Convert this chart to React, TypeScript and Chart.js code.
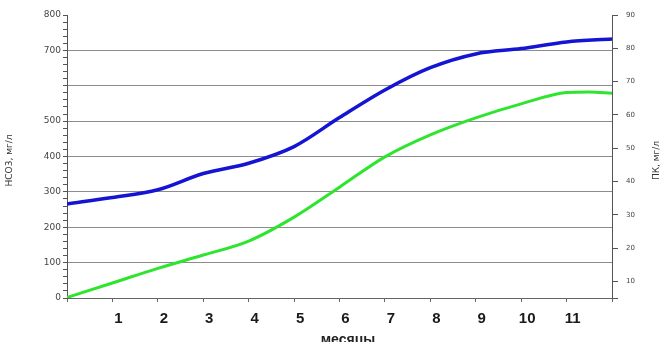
import React, { useEffect, useRef } from "react";
import { Chart, registerables } from "chart.js";

Chart.register(...registerables);

const months = [0, 1, 2, 3, 4, 5, 6, 7, 8, 9, 10, 11, 12];
const hco3 = [266, 284, 306, 352, 381, 428, 510, 588, 651, 690, 705, 724, 732];
const pkMonths = [0, 1, 2, 3, 4, 5, 6, 7, 8, 9, 10, 11, 11.5, 12];
const pk = [5.15, 9.5, 13.9, 17.9, 22.1, 29.3, 38.3, 47.4, 54.0, 59.1, 63.3, 66.7, 66.9, 66.5];
const xTickLabels = ["1", "2", "3", "4", "5", "6", "7", "8", "9", "10", "11"];
const leftTickLabels = [0, 100, 200, 300, 400, 500, 700, 800];
const rightTickLabels = [10, 20, 30, 40, 50, 60, 70, 80, 90];

const titlesPlugin = {
  id: "titles",
  afterDraw(chart: any) {
    const ctx = chart.ctx;
    const area = chart.chartArea;
    ctx.save();
    ctx.fillStyle = "#333";
    ctx.textAlign = "center";
    ctx.textBaseline = "middle";
    ctx.font = "9px 'DejaVu Sans'";
    ctx.save();
    ctx.translate(10, (area.top + area.bottom) / 2 + 4);
    ctx.rotate(-Math.PI / 2);
    ctx.fillText("HCO3, мг/л", 0, 0);
    ctx.restore();
    ctx.save();
    ctx.translate(657, (area.top + area.bottom) / 2 + 4);
    ctx.rotate(-Math.PI / 2);
    ctx.fillText("ПК, мг/л", 0, 0);
    ctx.restore();
    ctx.font = "bold 14px 'Liberation Sans'";
    ctx.textBaseline = "alphabetic";
    ctx.fillStyle = "#222";
    ctx.fillText("месяцы", 348, 344);
    ctx.restore();
  },
};

export default function App() {
  const ref = useRef<HTMLCanvasElement>(null);
  useEffect(() => {
    if (!ref.current) return;
    const chart = new Chart(ref.current, {
      type: "line",
      data: {
        datasets: [
          {
            label: "HCO3",
            data: months.map((m, i) => ({ x: m, y: hco3[i] })),
            borderColor: "#1414d2",
            borderWidth: 3.5,
            pointRadius: 0,
            cubicInterpolationMode: "monotone",
            yAxisID: "y",
          },
          {
            label: "ПК",
            data: pkMonths.map((m, i) => ({ x: m, y: pk[i] })),
            borderColor: "#2ee52e",
            borderWidth: 3,
            pointRadius: 0,
            cubicInterpolationMode: "monotone",
            yAxisID: "y1",
          },
        ],
      },
      options: {
        responsive: false,
        animation: false,
        layout: { padding: { top: 15, left: 0, right: 0, bottom: 0 } },
        plugins: { legend: { display: false }, tooltip: { enabled: false } },
        scales: {
          x: {
            type: "linear",
            min: 0,
            max: 12,
            afterFit: (s: any) => { s.height = 44; },
            ticks: {
              stepSize: 1,
              labelOffset: 6,
              padding: 8,
              color: "#1a1a1a",
              font: { family: "'Liberation Sans'", size: 15, weight: "bold" },
              maxRotation: 0,
              autoSkip: false,
              callback: (v: any) => {
                const s = String(v);
                return xTickLabels.includes(s) ? s : "";
              },
            },
            grid: { drawOnChartArea: false, tickLength: 4, tickColor: "#666" },
            border: { color: "#666", width: 1 },
          },
          y: {
            position: "left",
            min: 0,
            max: 800,
            afterFit: (s: any) => { s.width = 67; },
            ticks: {
              stepSize: 20,
              padding: 2,
              color: "#444",
              font: { family: "'DejaVu Sans'", size: 9 },
              autoSkip: false,
              callback: (v: any) => (leftTickLabels.includes(Number(v)) ? String(v) : ""),
            },
            grid: {
              tickLength: 4,
              tickColor: "#555",
              color: (c: any) => {
                const v = c.tick ? c.tick.value : 0;
                return v % 100 === 0 && v > 0 && v < 800 ? "#8c8c8c" : "rgba(0,0,0,0)";
              },
              lineWidth: 1,
            },
            border: { color: "#555", width: 1 },
          },
          y1: {
            position: "right",
            min: 5,
            max: 90,
            afterFit: (s: any) => { s.width = 50; },
            ticks: {
              stepSize: 10,
              padding: 8,
              color: "#444",
              font: { family: "'DejaVu Sans'", size: 7 },
              autoSkip: false,
              callback: (v: any) => (rightTickLabels.includes(Number(v)) ? String(v) : ""),
            },
            grid: { drawOnChartArea: false, tickLength: 6, tickColor: "#555" },
            border: { color: "#555", width: 1 },
          },
        },
      },
      plugins: [titlesPlugin],
    } as any);
    return () => chart.destroy();
  }, []);
  return (
    <div style={{ position: "fixed", left: 0, top: 0, width: 662, height: 342, background: "#fff" }}>
      <canvas ref={ref} width={662} height={342} />
    </div>
  );
}
